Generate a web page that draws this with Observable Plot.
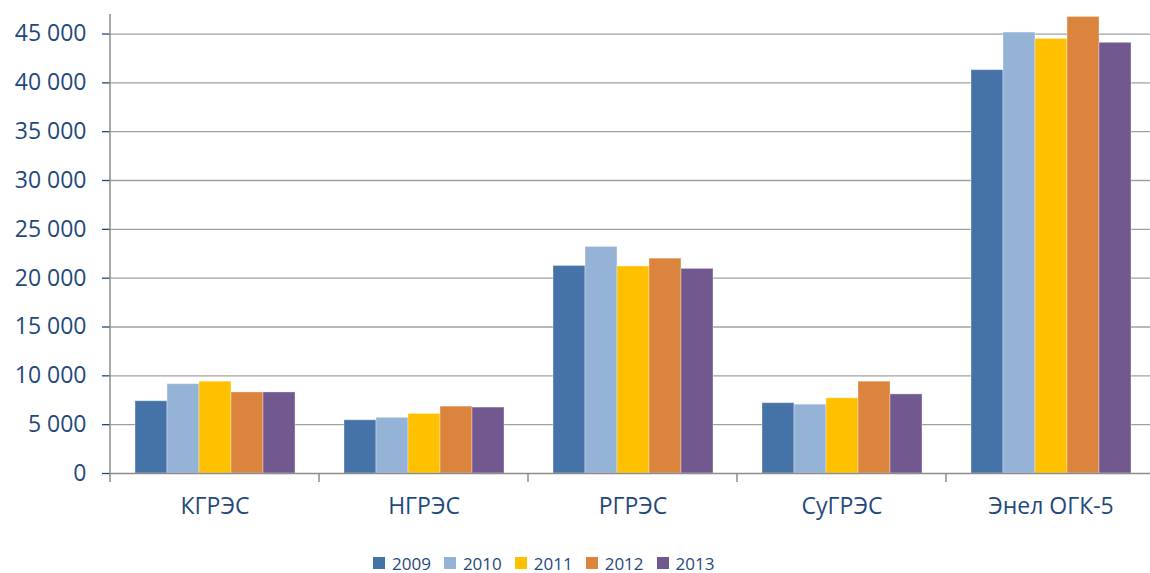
<!DOCTYPE html>
<html>
<head>
<meta charset="utf-8">
<script src="https://cdn.jsdelivr.net/npm/d3@7"></script>
<script src="https://cdn.jsdelivr.net/npm/@observablehq/plot@0.6"></script>
<style>
  html, body { margin: 0; padding: 0; background: #fff; }
  #chart { width: 1150px; overflow: hidden; }
  #legend { display: flex; align-items: center; box-sizing: border-box; height: 28px; padding-top: 8px; padding-left: 373px;
            font-family: "Open Sans", sans-serif; font-size: 17px; color: #1F497D; }
  .item { display: flex; align-items: center; margin-right: 13px; }
  .sw { width: 12px; height: 12px; margin-right: 7px; }
</style>
</head>
<body>
<div id="chart"></div>
<div id="legend"></div>
<script>
const categories = ["КГРЭС", "НГРЭС", "РГРЭС", "СуГРЭС", "Энел ОГК-5"];
const years = ["2009", "2010", "2011", "2012", "2013"];
const v2009 = [7400, 5450, 21250, 7200, 41300];
const v2010 = [9150, 5700, 23200, 7050, 45150];
const v2011 = [9400, 6100, 21200, 7700, 44500];
const v2012 = [8300, 6850, 22000, 9400, 46750];
const v2013 = [8300, 6750, 20950, 8100, 44100];
const colors = ["#4572A7", "#95B3D7", "#FFC000", "#DB843D", "#71588F"];
const yTicks = [0, 5000, 10000, 15000, 20000, 25000, 30000, 35000, 40000, 45000];

const series = [v2009, v2010, v2011, v2012, v2013];
const rows = [];
categories.forEach((c, i) => years.forEach((y, j) => rows.push({cat: c, year: y, value: series[j][i]})));

const fmt = d3.formatLocale({decimal: ",", thousands: " ", grouping: [3], currency: ["", ""]}).format(",d");

const plot = Plot.plot({
  width: 1150,
  height: 545,
  marginLeft: 109,
  marginRight: -6,
  marginTop: 14,
  marginBottom: 72,
  style: {fontFamily: "Open Sans, sans-serif", fontSize: "23px", background: "#fff"},
  fx: {domain: categories, padding: 0, label: null},
  x: {domain: years, paddingInner: 0, paddingOuter: 0.75, axis: null},
  y: {domain: [0, 47000], label: null},
  color: {domain: years, range: colors},
  marks: [
    Plot.ruleY(yTicks.slice(1), {stroke: "#a0a0a0", strokeWidth: 1.3}),
    Plot.barY(rows, {fx: "cat", x: "year", y: "value", fill: "year", stroke: "#ffffff", strokeOpacity: 0.35, strokeWidth: 1}),
    Plot.ruleY([0], {stroke: "#8c8c8c", strokeWidth: 1.5}),
    Plot.axisY({ticks: yTicks, tickFormat: fmt, tickSize: 8, tickPadding: 16, color: "#1F497D", fontSize: 23}),
    Plot.axisFx({anchor: "bottom", tickSize: 0, tickPadding: 24, color: "#1F497D", fontSize: 23, label: null})
  ]
});

document.getElementById("chart").appendChild(plot);

// style y tick lines grey and add axis line / category boundary ticks using the plot's scales
const svg = d3.select(plot);
svg.selectAll('g[aria-label="y-axis tick"]').attr("stroke", "#8c8c8c").attr("stroke-width", 1.3);
const fx = plot.scale("fx");
const y = plot.scale("y");
const y0 = y.apply(0), yTop = y.apply(47000);
const x0 = fx.apply(categories[0]);
const g = svg.append("g").attr("stroke", "#8c8c8c").attr("stroke-width", 1.5);
g.append("line").attr("x1", x0).attr("x2", x0).attr("y1", yTop).attr("y2", y0);
const bounds = categories.map(c => fx.apply(c)).concat([fx.apply(categories[categories.length - 1]) + fx.bandwidth]);
bounds.forEach(b => g.append("line").attr("x1", b).attr("x2", b).attr("y1", y0).attr("y2", y0 + 9));

// legend
const legend = d3.select("#legend");
years.forEach((yr, i) => {
  const it = legend.append("div").attr("class", "item");
  it.append("div").attr("class", "sw").style("background", colors[i]);
  it.append("span").text(yr);
});
</script>
</body>
</html>
